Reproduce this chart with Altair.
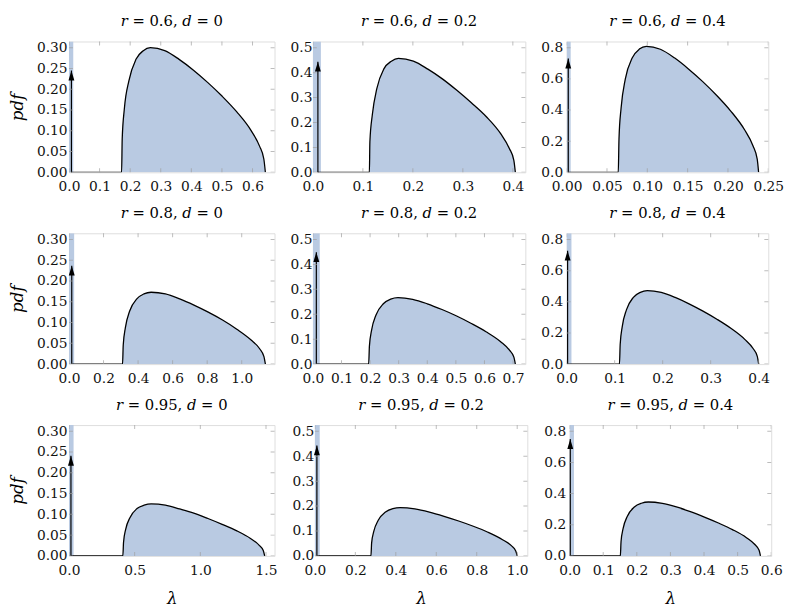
import altair as alt
import pandas as pd

# ---------------- data ----------------
R_VALUES = ["0.6", "0.8", "0.95"]
D_VALUES = ["0", "0.2", "0.4"]
TITLES = [f"𝑟 = {r}, 𝑑 = {d}" for r in R_VALUES for d in D_VALUES]

X_MAX = [0.672, 0.425, 0.25, 1.19, 0.743, 0.42, 1.565, 1.05, 0.60]
Y_MAX_COL = [0.315, 0.525, 0.84]

X_TICKS = [
    [0.0, 0.1, 0.2, 0.3, 0.4, 0.5, 0.6],
    [0.0, 0.1, 0.2, 0.3, 0.4],
    [0.0, 0.05, 0.10, 0.15, 0.20, 0.25],
    [0.0, 0.2, 0.4, 0.6, 0.8, 1.0],
    [0.0, 0.1, 0.2, 0.3, 0.4, 0.5, 0.6, 0.7],
    [0.0, 0.1, 0.2, 0.3, 0.4],
    [0.0, 0.5, 1.0, 1.5],
    [0.0, 0.2, 0.4, 0.6, 0.8, 1.0],
    [0.0, 0.1, 0.2, 0.3, 0.4, 0.5, 0.6],
]
X_FMT = [".1f", ".1f", ".2f", ".1f", ".1f", ".1f", ".1f", ".1f", ".1f"]
Y_TICKS_COL = [
    [0.0, 0.05, 0.10, 0.15, 0.20, 0.25, 0.30],
    [0.0, 0.1, 0.2, 0.3, 0.4, 0.5],
    [0.0, 0.2, 0.4, 0.6, 0.8],
]
Y_FMT_COL = [".2f", ".1f", ".1f"]

# spike bin at zero (width) and arrow (position, tip height)
SPIKE_W = [0.014, 0.016, 0.005, 0.03, 0.024, 0.01, 0.035, 0.024, 0.013]
ARROW_X = [0.008, 0.010, 0.002, 0.016, 0.012, 0.002, 0.015, 0.010, 0.002]
ARROW_TIP = [0.245, 0.444, 0.73, 0.237, 0.449, 0.728, 0.241, 0.443, 0.75]

# density curves (x, pdf)
CURVE_X = [
    [0.172, 0.174, 0.181, 0.196, 0.219, 0.243, 0.266, 0.313, 0.360, 0.407, 0.454, 0.501, 0.548, 0.595, 0.623, 0.637, 0.642],
    [0.113, 0.114, 0.119, 0.128, 0.142, 0.157, 0.171, 0.201, 0.230, 0.259, 0.288, 0.317, 0.347, 0.376, 0.393, 0.402, 0.405],
    [0.064, 0.0649, 0.0675, 0.0727, 0.0814, 0.0901, 0.0988, 0.1162, 0.1336, 0.151, 0.1684, 0.1858, 0.2032, 0.2206, 0.231, 0.2363, 0.238],
    [0.31, 0.3141, 0.3265, 0.3514, 0.3927, 0.434, 0.4754, 0.5581, 0.6408, 0.7235, 0.8062, 0.8889, 0.9716, 1.0543, 1.1039, 1.1287, 1.137],
    [0.195, 0.1976, 0.2053, 0.2207, 0.2463, 0.272, 0.2976, 0.3489, 0.4002, 0.4515, 0.5028, 0.5541, 0.6054, 0.6567, 0.6875, 0.7029, 0.708],
    [0.11, 0.1115, 0.1158, 0.1245, 0.139, 0.1535, 0.168, 0.197, 0.226, 0.255, 0.284, 0.313, 0.342, 0.371, 0.3884, 0.3971, 0.40],
    [0.41, 0.4154, 0.4316, 0.464, 0.518, 0.572, 0.626, 0.734, 0.842, 0.95, 1.058, 1.166, 1.274, 1.382, 1.4468, 1.4792, 1.49],
    [0.277, 0.2806, 0.2915, 0.3132, 0.3493, 0.3855, 0.4216, 0.4939, 0.5662, 0.6385, 0.7108, 0.7831, 0.8554, 0.9277, 0.9711, 0.9928, 1.0],
    [0.151, 0.1531, 0.1593, 0.1719, 0.1927, 0.2136, 0.2344, 0.2761, 0.3178, 0.3595, 0.4012, 0.4429, 0.4846, 0.5263, 0.5513, 0.5639, 0.568],
]
CURVE_Y = [
    [0, 0.080, 0.153, 0.221, 0.272, 0.293, 0.300, 0.293, 0.272, 0.246, 0.216, 0.183, 0.146, 0.101, 0.063, 0.032, 0],
    [0, 0.122, 0.233, 0.337, 0.415, 0.446, 0.457, 0.446, 0.414, 0.375, 0.329, 0.279, 0.223, 0.154, 0.096, 0.048, 0],
    [0, 0.216, 0.413, 0.598, 0.735, 0.791, 0.809, 0.790, 0.735, 0.664, 0.584, 0.495, 0.395, 0.273, 0.171, 0.085, 0],
    [0, 0.046, 0.088, 0.128, 0.157, 0.169, 0.173, 0.169, 0.157, 0.142, 0.125, 0.106, 0.084, 0.058, 0.037, 0.018, 0],
    [0, 0.071, 0.136, 0.197, 0.242, 0.261, 0.267, 0.260, 0.242, 0.219, 0.193, 0.163, 0.130, 0.090, 0.056, 0.028, 0],
    [0, 0.126, 0.241, 0.348, 0.429, 0.461, 0.472, 0.460, 0.428, 0.387, 0.340, 0.288, 0.230, 0.159, 0.100, 0.050, 0],
    [0, 0.033, 0.064, 0.092, 0.114, 0.122, 0.125, 0.122, 0.113, 0.103, 0.090, 0.076, 0.061, 0.042, 0.026, 0.013, 0],
    [0, 0.052, 0.099, 0.143, 0.176, 0.190, 0.194, 0.189, 0.176, 0.159, 0.140, 0.119, 0.095, 0.065, 0.041, 0.020, 0],
    [0, 0.092, 0.176, 0.255, 0.314, 0.338, 0.346, 0.337, 0.314, 0.284, 0.249, 0.211, 0.169, 0.117, 0.073, 0.036, 0],
]

# ---------------- styling ----------------
FILL = "#b9cae2"
FRAME = "#a0a0a0"
FONT = "DejaVu Serif"
WIDTHS = [209, 216, 205]
Y_LABEL_PAD = [2, 1, 4]
HEIGHT = 133


def panel(i):
    row, col = divmod(i, 3)
    w = WIDTHS[col]
    ymax = Y_MAX_COL[col]
    xsc = alt.Scale(domain=[0, X_MAX[i]], nice=False, zero=False)
    ysc = alt.Scale(domain=[0, ymax], nice=False, zero=False)

    xax = dict(values=X_TICKS[i], format=X_FMT[i], labelFlush=False,
               labelOverlap=False, ticks=False, domain=False, grid=False,
               labelPadding=8, labelFont=FONT, labelFontSize=14,
               labelColor="#111111")
    if row == 2:
        xax.update(title="λ", titleFontStyle="italic", titleFontSize=17,
                   titleFontWeight="normal", titlePadding=13, titleFont=FONT,
                   titleColor="black")
    else:
        xax.update(title=None)
    yax = dict(values=Y_TICKS_COL[col], format=Y_FMT_COL[col], ticks=False,
               domain=False, grid=False, labelPadding=Y_LABEL_PAD[col],
               labelOverlap=False, labelFont=FONT, labelFontSize=14,
               labelColor="#111111")
    if col == 0:
        yax.update(title="pdf", titleFontStyle="italic", titleFontSize=17,
                   titleFontWeight="normal", titlePadding=10, titleFont=FONT,
                   titleColor="black")
    else:
        yax.update(title=None)
    XA = alt.Axis(**xax)
    YA = alt.Axis(**yax)

    curve = pd.DataFrame({"x": CURVE_X[i], "y": CURVE_Y[i]})
    line_df = pd.DataFrame({"x": [ARROW_X[i]] + CURVE_X[i],
                            "y": [0] + CURVE_Y[i]})
    spike = pd.DataFrame({"x": [0.0], "x2": [SPIKE_W[i]], "y": [0.0], "y2": [ymax]})
    arrow = pd.DataFrame({"x": [ARROW_X[i]], "y": [0.0], "y2": [ARROW_TIP[i]]})
    xt = pd.DataFrame({"x": X_TICKS[i]})
    yt = pd.DataFrame({"y": Y_TICKS_COL[col]})

    area = alt.Chart(curve).mark_area(color=FILL, interpolate="monotone",
                                      clip=True).encode(
        x=alt.X("x:Q", scale=xsc, axis=XA), y=alt.Y("y:Q", scale=ysc, axis=YA))
    spk = alt.Chart(spike).mark_rect(color=FILL, clip=True).encode(
        x=alt.X("x:Q", scale=xsc, axis=XA), x2="x2:Q",
        y=alt.Y("y:Q", scale=ysc, axis=YA), y2="y2:Q")
    ln = alt.Chart(line_df).mark_line(color="black", strokeWidth=1.3,
                                      interpolate="monotone", clip=True).encode(
        x=alt.X("x:Q", scale=xsc, axis=XA), y=alt.Y("y:Q", scale=ysc, axis=YA))
    shaft = alt.Chart(arrow).mark_rule(color="black", strokeWidth=1.2).encode(
        x=alt.X("x:Q", scale=xsc, axis=XA),
        y=alt.Y("y:Q", scale=ysc, axis=YA), y2="y2:Q")
    head = alt.Chart(arrow).mark_point(
        shape="M0,-1L0.6,1L-0.6,1Z", size=100, filled=True, color="black",
        opacity=1, yOffset=5,
    ).encode(x=alt.X("x:Q", scale=xsc, axis=XA),
             y=alt.Y("y2:Q", scale=ysc, axis=YA))
    tb = alt.Chart(xt).mark_tick(color=FRAME, size=8, thickness=1, clip=True).encode(
        x=alt.X("x:Q", scale=xsc, axis=XA), y=alt.value(HEIGHT))
    tt = alt.Chart(xt).mark_tick(color=FRAME, size=8, thickness=1, clip=True).encode(
        x=alt.X("x:Q", scale=xsc, axis=XA), y=alt.value(0))
    tl = alt.Chart(yt).mark_tick(color=FRAME, size=8, thickness=1, clip=True).encode(
        y=alt.Y("y:Q", scale=ysc, axis=YA), x=alt.value(0))
    tr = alt.Chart(yt).mark_tick(color=FRAME, size=8, thickness=1, clip=True).encode(
        y=alt.Y("y:Q", scale=ysc, axis=YA), x=alt.value(w))

    return alt.layer(area, spk, ln, shaft, head, tb, tt, tl, tr).properties(
        width=w, height=HEIGHT,
        title=alt.TitleParams(TITLES[i], fontSize=15, font=FONT,
                              fontWeight="normal", offset=12, color="black"),
    )


rows = [alt.hconcat(*[panel(3 * r + c) for c in range(3)], spacing=14)
        for r in range(3)]
chart = alt.vconcat(*rows, spacing=10).properties(padding=0).configure_view(
    stroke=FRAME, strokeWidth=1
).configure(background="white")

chart.save("out.html", embed_options={"renderer": "svg", "actions": False})
